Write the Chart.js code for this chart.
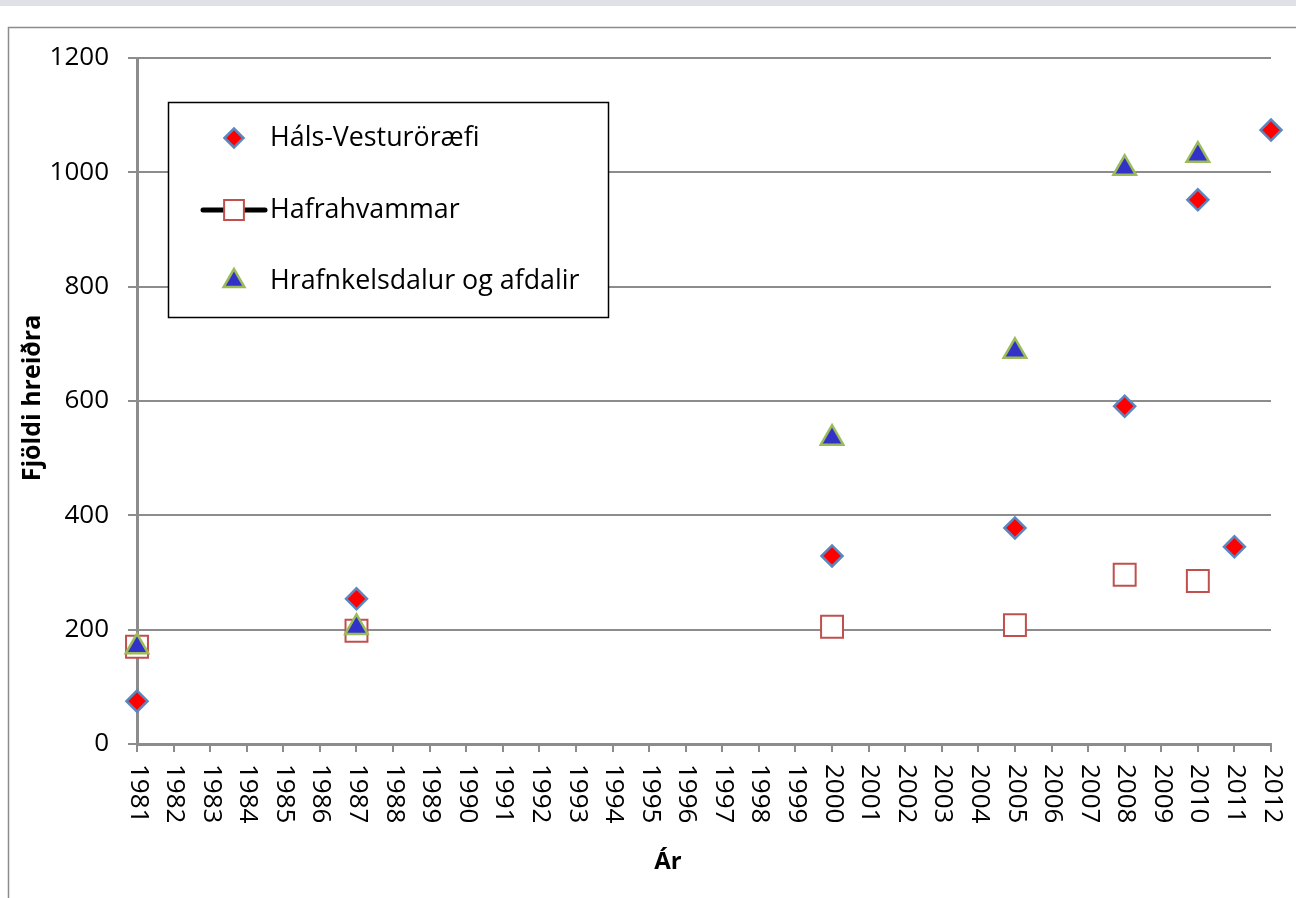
<!DOCTYPE html>
<html>
<head>
<meta charset="utf-8">
<script src="https://cdn.jsdelivr.net/npm/chart.js@4.4.1/dist/chart.umd.min.js"></script>
<style>
html,body{margin:0;padding:0;background:#fff;}
#wrap{position:relative;width:1296px;height:898px;}
</style>
</head>
<body>
<div id="wrap"><canvas id="c" width="1296" height="898"></canvas></div>
<script>
// ---- data ----
const years = [];
for (let y = 1981; y <= 2012; y++) years.push(y);
const halsYears = [1981, 1987, 2000, 2005, 2008, 2010, 2011, 2012];
const halsValues = [75, 254, 329, 378, 591, 952, 345, 1074];
const hafraYears = [1981, 1987, 2000, 2005, 2008, 2010];
const hafraValues = [170, 198, 205, 208, 296, 285];
const hrafnYears = [1981, 1987, 2000, 2005, 2008, 2010];
const hrafnValues = [170, 204, 535, 687, 1007, 1030];
const seriesNames = ['Háls-Vesturöræfi', 'Hafrahvammar', 'Hrafnkelsdalur og afdalir'];
const yTicks = [0, 200, 400, 600, 800, 1000, 1200];
const xTitle = 'Ár';
const yTitle = 'Fjöldi hreiðra';

const pts = (xs, vs) => xs.map((x, i) => ({x: x, y: vs[i]}));
const GRID = '#8c8c8c';
const FONT = '"Open Sans", "Liberation Sans", sans-serif';

const styles = [
  {pointStyle: 'rectRot', radius: 10.5, bg: '#ff0000', border: '#5b87c0', bw: 2.5},
  {pointStyle: 'rect', radius: 15.5, bg: '#ffffff', border: '#c0504d', bw: 2},
  {pointStyle: 'triangle', radius: 13, bg: '#3232c8', border: '#9bbb59', bw: 2.5}
];

const decorPlugin = {
  id: 'decor',
  beforeDraw(chart) {
    const ctx = chart.ctx;
    ctx.save();
    ctx.fillStyle = '#dee2e7';
    ctx.fillRect(0, 0, 1296, 6);
    ctx.strokeStyle = '#8c8c8c';
    ctx.lineWidth = 1.5;
    ctx.beginPath();
    ctx.moveTo(8.5, 898);
    ctx.lineTo(8.5, 27.5);
    ctx.lineTo(1296, 27.5);
    ctx.stroke();
    ctx.restore();
  },
  afterDraw(chart) {
    const ctx = chart.ctx;
    const xs = chart.scales.x;
    ctx.save();
    // rotated x tick labels (reading downward)
    ctx.fillStyle = '#000';
    ctx.font = '26px ' + FONT;
    ctx.textAlign = 'left';
    ctx.textBaseline = 'middle';
    xs.ticks.forEach(t => {
      const px = xs.getPixelForValue(t.value);
      ctx.save();
      ctx.translate(px + 1, 764);
      ctx.rotate(Math.PI / 2);
      ctx.fillText(String(t.value), 0, 0);
      ctx.restore();
    });
    // axis titles
    ctx.font = 'bold 24px ' + FONT;
    ctx.textAlign = 'center';
    ctx.textBaseline = 'middle';
    ctx.fillText(xTitle, 668, 862);
    ctx.save();
    ctx.font = 'bold 25px ' + FONT;
    ctx.translate(33, 398);
    ctx.rotate(-Math.PI / 2);
    ctx.fillText(yTitle, 0, 0);
    ctx.restore();
    // legend
    ctx.lineWidth = 1.5;
    ctx.strokeStyle = '#000';
    ctx.fillStyle = '#fff';
    ctx.fillRect(168, 102, 440, 215);
    ctx.strokeRect(168.5, 102.5, 440, 215);
    const rows = [138, 210, 281];
    ctx.font = '26.8px ' + FONT;
    ctx.textAlign = 'left';
    ctx.textBaseline = 'middle';
    rows.forEach((ry, i) => {
      const s = styles[i];
      if (i === 1) {
        ctx.save();
        ctx.strokeStyle = '#000';
        ctx.lineWidth = 5;
        ctx.lineCap = 'round';
        ctx.beginPath();
        ctx.moveTo(203, ry);
        ctx.lineTo(265, ry);
        ctx.stroke();
        ctx.restore();
      }
      ctx.save();
      ctx.fillStyle = s.bg;
      ctx.strokeStyle = s.border;
      ctx.lineWidth = s.bw;
      Chart.helpers.drawPoint(ctx, {pointStyle: s.pointStyle, radius: i === 1 ? 14 : s.radius - 1, borderWidth: s.bw, rotation: 0}, 234, ry);
      ctx.restore();
      ctx.fillStyle = '#000';
      ctx.fillText(seriesNames[i], 270, ry);
    });
    ctx.restore();
  }
};

const mk = (i, data, order) => ({
  label: seriesNames[i],
  data: data,
  showLine: false,
  pointStyle: styles[i].pointStyle,
  pointRadius: styles[i].radius,
  pointHoverRadius: styles[i].radius,
  backgroundColor: styles[i].bg,
  borderColor: styles[i].border,
  pointBorderWidth: styles[i].bw,
  borderWidth: styles[i].bw,
  clip: false,
  order: order
});

new Chart(document.getElementById('c'), {
  type: 'scatter',
  data: {
    datasets: [
      mk(0, pts(halsYears, halsValues), 2),
      mk(1, pts(hafraYears, hafraValues), 1),
      mk(2, pts(hrafnYears, hrafnValues), 0)
    ]
  },
  options: {
    responsive: false,
    animation: false,
    devicePixelRatio: 1,
    layout: {padding: {top: 58, right: 25, bottom: 54, left: 0}},
    plugins: {legend: {display: false}, tooltip: {enabled: false}},
    scales: {
      x: {
        type: 'linear',
        min: years[0],
        max: years[years.length - 1],
        afterBuildTicks(scale) { scale.ticks = years.map(v => ({value: v})); },
        afterFit(scale) { scale.height = 100; },
        ticks: {display: false, stepSize: 1},
        grid: {display: true, drawOnChartArea: false, drawTicks: true, tickLength: 8, color: GRID, lineWidth: 2},
        border: {display: true, color: GRID, width: 3}
      },
      y: {
        min: 0,
        max: 1200,
        afterBuildTicks(scale) { scale.ticks = yTicks.map(v => ({value: v})); },
        afterFit(scale) { scale.width = 137; },
        ticks: {color: '#000', font: {family: FONT, size: 26}, padding: 19, callback: v => String(v)},
        grid: {color: GRID, lineWidth: 2, tickLength: 9},
        border: {display: true, color: GRID, width: 3}
      }
    }
  },
  plugins: [decorPlugin]
});
</script>
</body>
</html>
